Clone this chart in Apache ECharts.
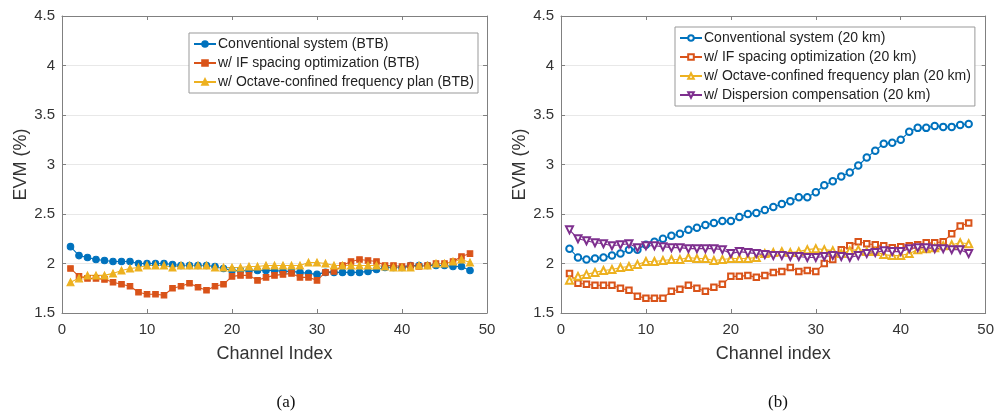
<!DOCTYPE html>
<html>
<head>
<meta charset="utf-8">
<script src="https://cdn.jsdelivr.net/npm/echarts@6/dist/echarts.min.js"></script>
<style>
  html, body { margin: 0; padding: 0; background: #fff; }
  #chart { width: 997px; height: 413px; }
</style>
</head>
<body>
<div id="chart"></div>
<script>
var channels = [1,2,3,4,5,6,7,8,9,10,11,12,13,14,15,16,17,18,19,20,21,22,23,24,
                25,26,27,28,29,30,31,32,33,34,35,36,37,38,39,40,41,42,43,44,45,46,47,48];

// (a) back-to-back
var btbConventional = [2.17,2.08,2.06,2.04,2.03,2.02,2.02,2.02,2.00,2.00,
                       2.00,2.00,1.99,1.98,1.98,1.98,1.98,1.97,1.95,1.93,
                       1.93,1.93,1.93,1.93,1.93,1.92,1.92,1.91,1.90,1.89,
                       1.91,1.91,1.91,1.91,1.91,1.92,1.94,1.96,1.96,1.96,
                       1.98,1.98,1.98,1.98,1.98,1.97,1.97,1.93];
var btbIfSpacing = [1.95,1.87,1.85,1.85,1.84,1.81,1.79,1.77,1.71,1.69,
                    1.69,1.68,1.75,1.77,1.80,1.76,1.73,1.77,1.79,1.87,
                    1.88,1.88,1.83,1.86,1.88,1.89,1.90,1.86,1.86,1.83,
                    1.91,1.92,1.98,2.02,2.04,2.03,2.02,1.98,1.98,1.97,
                    1.98,1.97,1.98,2.00,2.00,2.02,2.07,2.10];
var btbOctave = [1.81,1.85,1.88,1.88,1.88,1.90,1.93,1.95,1.96,1.98,
                 1.98,1.98,1.96,1.98,1.98,1.98,1.98,1.96,1.96,1.96,
                 1.96,1.97,1.97,1.98,1.98,1.98,1.98,1.98,2.01,2.01,
                 2.00,1.98,1.98,1.98,1.98,1.98,1.98,1.97,1.96,1.96,
                 1.96,1.98,1.98,2.00,2.00,2.02,2.04,2.01];

// (b) 20 km
var kmConventional = [2.15,2.06,2.04,2.05,2.06,2.08,2.10,2.14,2.14,2.19,
                      2.22,2.25,2.28,2.30,2.34,2.36,2.39,2.41,2.43,2.43,
                      2.47,2.50,2.51,2.54,2.57,2.60,2.63,2.67,2.67,2.72,
                      2.79,2.83,2.88,2.92,2.99,3.07,3.14,3.21,3.22,3.25,
                      3.33,3.37,3.37,3.39,3.38,3.38,3.40,3.41];
var kmIfSpacing = [1.90,1.80,1.79,1.78,1.78,1.78,1.75,1.73,1.67,1.65,
                   1.65,1.65,1.72,1.74,1.78,1.75,1.72,1.76,1.79,1.87,
                   1.87,1.88,1.86,1.88,1.91,1.92,1.96,1.92,1.93,1.92,
                   2.00,2.04,2.14,2.18,2.22,2.20,2.19,2.18,2.16,2.17,
                   2.18,2.19,2.21,2.21,2.22,2.30,2.38,2.41];
var kmOctave = [1.83,1.87,1.89,1.91,1.93,1.94,1.96,1.97,1.99,2.02,
                2.02,2.03,2.04,2.04,2.06,2.05,2.05,2.03,2.04,2.05,
                2.05,2.05,2.06,2.10,2.11,2.12,2.11,2.12,2.14,2.15,
                2.14,2.13,2.10,2.13,2.14,2.12,2.12,2.09,2.08,2.08,
                2.10,2.14,2.15,2.16,2.18,2.19,2.21,2.20];
var kmDispersion = [2.34,2.25,2.23,2.21,2.20,2.18,2.19,2.20,2.16,2.18,
                    2.18,2.17,2.16,2.16,2.15,2.15,2.15,2.15,2.14,2.10,
                    2.12,2.11,2.10,2.09,2.08,2.08,2.07,2.07,2.06,2.06,
                    2.07,2.08,2.07,2.06,2.08,2.10,2.11,2.13,2.12,2.12,
                    2.15,2.16,2.16,2.15,2.15,2.14,2.14,2.10];

var namesA = ['Conventional system (BTB)', 'w/ IF spacing optimization (BTB)',
              'w/ Octave-confined frequency plan (BTB)'];
var namesB = ['Conventional system (20 km)', 'w/ IF spacing optimization (20 km)',
              'w/ Octave-confined frequency plan (20 km)', 'w/ Dispersion compensation (20 km)'];

var colors = ['#0072BD', '#D95319', '#EDB120', '#7E2F8E'];
var font = "'Liberation Sans', Arial, Helvetica, sans-serif";
var axisGray = '#808080';
var textGray = '#333';

function pairs(ys) {
    var out = [];
    for (var i = 0; i < ys.length; i++) out.push([channels[i], ys[i]]);
    return out;
}

function xAxes(gi, title) {
    return [{
        gridIndex: gi, type: 'value', min: 0, max: 50, interval: 10,
        name: title, nameLocation: 'middle', nameGap: 32,
        nameTextStyle: { fontFamily: font, fontSize: 18, color: textGray },
        axisLine: { onZero: false, lineStyle: { color: axisGray } },
        axisTick: { inside: true, length: 4, lineStyle: { color: axisGray } },
        axisLabel: { fontFamily: font, fontSize: 15, color: textGray, margin: 9 },
        splitLine: { show: false }
    }, {
        gridIndex: gi, type: 'value', min: 0, max: 50, interval: 10, position: 'top',
        axisLine: { onZero: false, lineStyle: { color: axisGray } },
        axisTick: { inside: true, length: 4, lineStyle: { color: axisGray } },
        axisLabel: { show: false }, splitLine: { show: false }
    }];
}

function yAxes(gi) {
    return [{
        gridIndex: gi, type: 'value', min: 1.5, max: 4.5, interval: 0.5,
        name: 'EVM (%)', nameLocation: 'middle', nameGap: 32,
        nameTextStyle: { fontFamily: font, fontSize: 18, color: textGray },
        axisLine: { show: true, onZero: false, lineStyle: { color: axisGray } },
        axisTick: { show: true, inside: true, length: 4, lineStyle: { color: axisGray } },
        axisLabel: { fontFamily: font, fontSize: 15, color: textGray, margin: 7 },
        splitLine: { show: true, lineStyle: { color: '#e8e8e8' } }
    }, {
        gridIndex: gi, type: 'value', min: 1.5, max: 4.5, interval: 0.5, position: 'right',
        axisLine: { show: true, onZero: false, lineStyle: { color: axisGray } },
        axisTick: { show: true, inside: true, length: 4, lineStyle: { color: axisGray } },
        axisLabel: { show: false }, splitLine: { show: false }
    }];
}

function line(name, ys, color, axisIdx, symbol, size, rotate) {
    return {
        name: name, type: 'line', data: pairs(ys),
        xAxisIndex: axisIdx, yAxisIndex: axisIdx,
        symbol: symbol, symbolSize: size, symbolRotate: rotate || 0,
        showAllSymbol: true,
        lineStyle: { color: color, width: 1.1 },
        itemStyle: { color: color, borderColor: color, borderWidth: 1.1 },
        emphasis: { disabled: true }, animation: false
    };
}

var legendBase = {
    orient: 'vertical', itemWidth: 22, itemHeight: 7, itemGap: 5,
    backgroundColor: '#fff', borderColor: '#999', borderWidth: 1,
    padding: [4, 4, 4, 4],
    textStyle: { fontFamily: font, fontSize: 14, color: '#222', padding: [0, 0, 0, -3] }
};

var chart = echarts.init(document.getElementById('chart'), null, { renderer: 'canvas' });
chart.setOption({
    backgroundColor: '#fff',
    animation: false,
    grid: [
        { left: 62, top: 16, width: 425, height: 297 },
        { left: 561, top: 16, width: 426, height: 297 }
    ],
    xAxis: xAxes(0, 'Channel Index').concat(xAxes(1, 'Channel index')),
    yAxis: yAxes(0).concat(yAxes(1)),
    legend: [
        echarts.util.merge({ left: 189, top: 33, data: namesA }, legendBase),
        echarts.util.merge({ left: 675, top: 27, data: namesB }, legendBase)
    ],
    series: [
        line(namesA[0], btbConventional, colors[0], 0, 'circle', 6.5),
        line(namesA[1], btbIfSpacing, colors[1], 0, 'rect', 5.5),
        line(namesA[2], btbOctave, colors[2], 0, 'triangle', 7),
        line(namesB[0], kmConventional, colors[0], 2, 'emptyCircle', 6.5),
        line(namesB[1], kmIfSpacing, colors[1], 2, 'emptyRect', 5.5),
        line(namesB[2], kmOctave, colors[2], 2, 'emptyTriangle', 7),
        line(namesB[3], kmDispersion, colors[3], 2, 'emptyTriangle', 7, 180)
    ],
    graphic: [
        { type: 'text', x: 286, y: 403, style: { text: '(a)', font: "17px 'Liberation Serif', 'Times New Roman', serif", fill: '#111', textAlign: 'center', textVerticalAlign: 'middle' } },
        { type: 'text', x: 778, y: 403, style: { text: '(b)', font: "17px 'Liberation Serif', 'Times New Roman', serif", fill: '#111', textAlign: 'center', textVerticalAlign: 'middle' } }
    ]
});
</script>
</body>
</html>
